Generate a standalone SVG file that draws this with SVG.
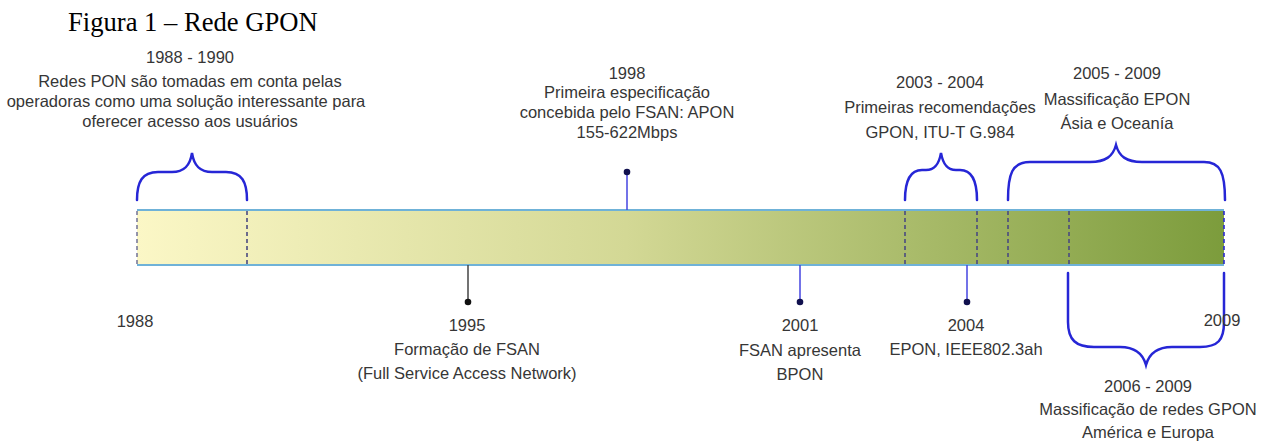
<svg xmlns="http://www.w3.org/2000/svg" width="1268" height="445" viewBox="0 0 1268 445">
<style>
.t{font-family:"Liberation Sans",Arial,sans-serif;font-size:16.5px;fill:#363636;text-anchor:middle}
.title{font-family:"Liberation Serif","Times New Roman",serif;font-size:26.6px;fill:#000}
.brace{fill:none;stroke:#2626d6;stroke-width:2.5;stroke-linecap:round}
.dash{stroke:#4a4a80;stroke-width:1.6;stroke-dasharray:4 3}
.stem{stroke:#4444e0;stroke-width:1.5}
.dot{fill:#10104e}
</style>
<defs>
<linearGradient id="bar" x1="0" y1="0" x2="1" y2="0">
<stop offset="0" stop-color="#fbf7c6"/>
<stop offset="0.45" stop-color="#d3d895"/>
<stop offset="1" stop-color="#7c9c3c"/>
</linearGradient>
</defs>
<rect width="1268" height="445" fill="#fff"/>
<text class="title" x="68" y="31">Figura 1 – Rede GPON</text>

<g id="timeline">
<rect x="137" y="210" width="1087" height="55" fill="url(#bar)"/>
<line x1="137" y1="210" x2="1224" y2="210" stroke="#6fb2d8" stroke-width="1.8"/>
<line x1="137" y1="265" x2="1224" y2="265" stroke="#6fb2d8" stroke-width="1.8"/>
<line class="dash" x1="137" y1="211" x2="137" y2="264" style="stroke:#7a7a9a"/>
<line class="dash" x1="247" y1="211" x2="247" y2="264"/>
<line class="dash" x1="905" y1="211" x2="905" y2="264"/>
<line class="dash" x1="977" y1="211" x2="977" y2="264"/>
<line class="dash" x1="1008" y1="211" x2="1008" y2="264"/>
<line class="dash" x1="1069" y1="211" x2="1069" y2="264"/>
<line class="dash" x1="1224" y1="211" x2="1224" y2="264" style="stroke:#2a2ad0"/>
</g>

<g id="connectors">
<line x1="468" y1="265" x2="468" y2="302" stroke="#444" stroke-width="1.5"/>
<circle class="dot" cx="468" cy="302" r="3.3" style="fill:#111"/>
<line class="stem" x1="627" y1="210" x2="627" y2="172"/>
<circle class="dot" cx="627" cy="172" r="3.3"/>
<line class="stem" x1="800" y1="265" x2="800" y2="302"/>
<circle class="dot" cx="800" cy="302" r="3.3"/>
<line class="stem" x1="967" y1="265" x2="967" y2="302"/>
<circle class="dot" cx="967" cy="302" r="3.3"/>
</g>

<g id="braces">
<path class="brace" d="M137,200 C137,182 142,172 158,172 L172,172 C184,172 190,166 192,153 C194,166 200,172 212,172 L226,172 C242,172 247,182 247,200"/>
<path class="brace" d="M905,200 C905,180 910,170 922,170 L926,170 C935,170 939,164 941,153 C943,164 947,170 956,170 L960,170 C972,170 977,180 977,200"/>
<path class="brace" d="M1008,200 C1008,174 1012,162 1030,162 L1090,162 C1106,162 1113,156 1116,145 C1119,156 1126,162 1142,162 L1204,162 C1220,162 1225,172 1225,200"/>
<path class="brace" d="M1068,273 L1068,322 C1068,340 1076,347 1094,347 L1120,347 C1136,347 1143,354 1146,365 C1149,354 1156,347 1172,347 L1200,347 C1218,347 1224,340 1224,322 L1224,273"/>
</g>

<g id="n1988-1990">
<text class="t" x="190" y="63">1988 - 1990</text>
<text class="t" x="190" y="87">Redes PON são tomadas em conta pelas</text>
<text class="t" x="186" y="107">operadoras como uma solução interessante para</text>
<text class="t" x="190" y="127">oferecer acesso aos usuários</text>
</g>
<g id="n1998">
<text class="t" x="627" y="79">1998</text>
<text class="t" x="627" y="98">Primeira especificação</text>
<text class="t" x="627" y="118">concebida pelo FSAN: APON</text>
<text class="t" x="627" y="138">155-622Mbps</text>
</g>
<g id="n2003-2004">
<text class="t" x="940" y="88">2003 - 2004</text>
<text class="t" x="940" y="113">Primeiras recomendações</text>
<text class="t" x="940" y="138">GPON, ITU-T G.984</text>
</g>
<g id="n2005-2009">
<text class="t" x="1117" y="79">2005 - 2009</text>
<text class="t" x="1117" y="105">Massificação EPON</text>
<text class="t" x="1117" y="129">Ásia e Oceanía</text>
</g>
<g id="n1988">
<text class="t" x="135" y="327">1988</text>
</g>
<g id="n1995">
<text class="t" x="467" y="331">1995</text>
<text class="t" x="467" y="355">Formação de FSAN</text>
<text class="t" x="467" y="379">(Full Service Access Network)</text>
</g>
<g id="n2001">
<text class="t" x="800" y="331">2001</text>
<text class="t" x="800" y="356">FSAN apresenta</text>
<text class="t" x="800" y="380">BPON</text>
</g>
<g id="n2004">
<text class="t" x="966" y="331">2004</text>
<text class="t" x="966" y="355">EPON, IEEE802.3ah</text>
</g>
<g id="n2009">
<text class="t" x="1222" y="326">2009</text>
</g>
<g id="n2006-2009">
<text class="t" x="1148" y="392">2006 - 2009</text>
<text class="t" x="1148" y="415">Massificação de redes GPON</text>
<text class="t" x="1148" y="438">América e Europa</text>
</g>
</svg>
